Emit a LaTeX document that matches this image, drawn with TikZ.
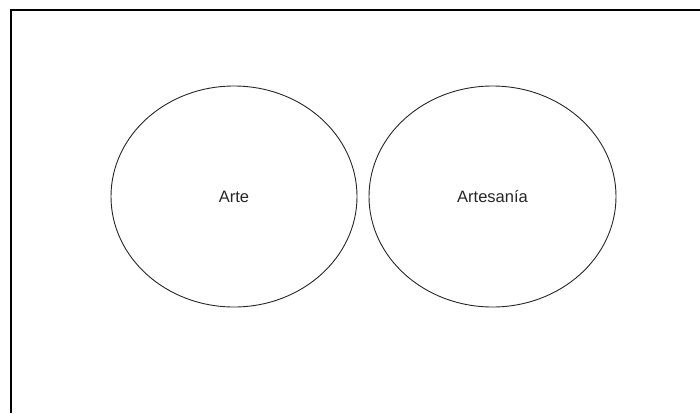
\documentclass[tikz,border=0pt]{standalone}
\usepackage{fontspec}
\setmainfont{Liberation Sans}
\usetikzlibrary{shapes.geometric}
\begin{document}
\begin{tikzpicture}[x=1pt,y=-1pt,
  frame/.style={line width=2pt,black},
  circ/.style={draw=black!85,line width=0.9pt,ellipse,minimum height=221pt,inner sep=0pt,
    font=\fontsize{16.5}{19}\selectfont,text=black!85}]
\useasboundingbox (0,0) rectangle (700,413);
\coordinate (tl) at (11,10);
\coordinate (tr) at (700,10);
\coordinate (bl) at (11,413);
\draw[frame] (tr) -- (tl) -- (bl);
\node[circ,minimum width=246pt] (arte) at (234,196.5) {Arte};
\node[circ,minimum width=247pt] (artesania) at (492.5,196.5) {Artesanía};
\end{tikzpicture}
\end{document}
